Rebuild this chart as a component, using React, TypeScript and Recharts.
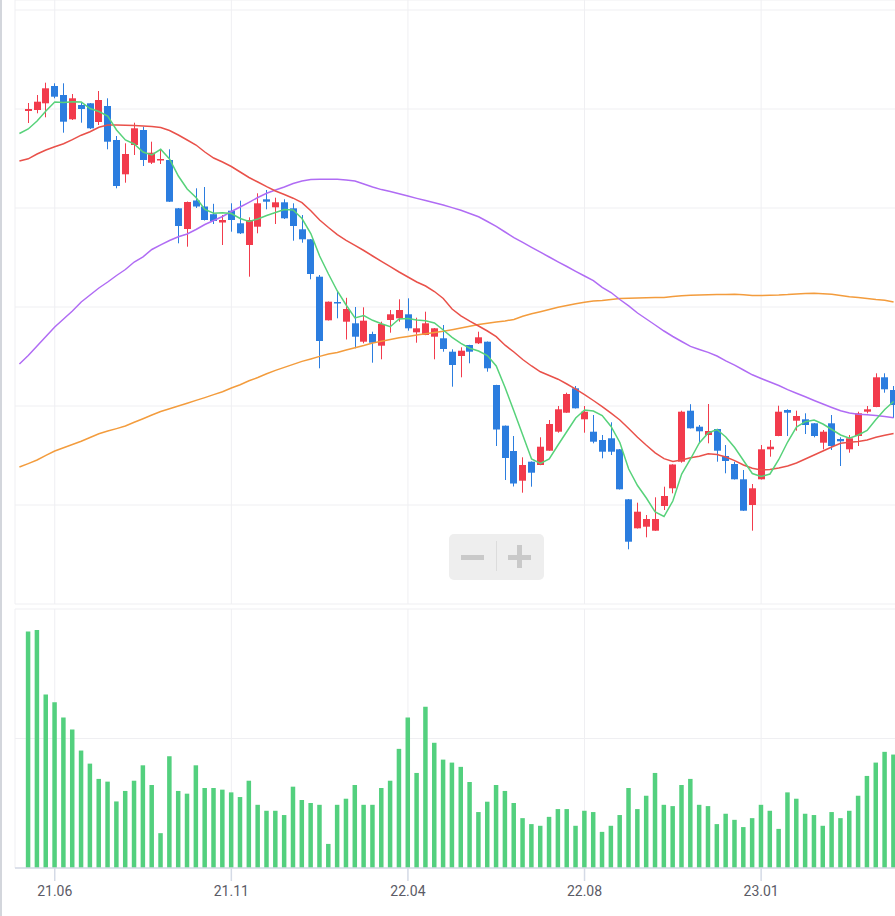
import React from 'react';
import {
  ComposedChart,
  BarChart,
  Bar,
  Line,
  XAxis,
  YAxis,
  CartesianGrid,
} from 'recharts';

// weekly candles, index 0..98 (index -1 only carries the moving averages)
const open = [
  49.3, 49.4, 50.07, 51.8, 50.9, 48.47, 49.9, 50.07, 48.2, 49.8,
  46.4, 42.97, 45.9, 47.4, 44.13, 44.35, 44.4, 39.57, 37.5, 40.35,
  39.75, 38.98, 38.15, 39.33, 38.07, 35.9, 37.73, 40.47, 39.67, 40.17,
  39.57, 37.47, 36.47, 32.73, 28.37, 30.2, 28.23, 28.07, 26.23, 27.0,
  25.83, 28.4, 28.57, 28.97, 27.17, 26.9, 26.73, 26.57, 25.23, 24.8,
  25.9, 26.07, 26.23, 21.9, 17.83, 15.3, 12.33, 14.23, 13.9, 15.33,
  17.23, 19.13, 21.57, 18.47, 17.23, 16.4, 16.57, 15.47, 10.47, 7.57,
  7.73, 7.33, 9.8, 11.57, 14.23, 19.33, 17.73, 16.9, 17.5, 14.8,
  14.0, 12.47, 9.9, 12.47, 15.47, 16.8, 19.4, 18.33, 18.47, 18.07,
  16.13, 18.07, 16.5, 15.47, 16.8, 19.23, 19.7, 22.67, 21.4,
];
const close = [
  49.5, 50.23, 51.57, 50.73, 48.23, 50.57, 49.5, 47.57, 50.4, 46.23,
  41.8, 45.0, 47.57, 44.4, 45.13, 44.5, 40.23, 37.8, 40.2, 39.75,
  38.4, 38.3, 38.4, 38.4, 37.07, 38.4, 40.07, 40.23, 40.17, 38.57,
  37.8, 36.47, 33.0, 26.3, 30.23, 30.05, 29.5, 26.73, 28.33, 26.13,
  28.0, 28.97, 29.4, 27.57, 27.57, 28.07, 27.57, 25.5, 23.9, 25.33,
  25.23, 26.67, 23.57, 17.45, 14.6, 12.05, 13.9, 13.13, 15.73, 18.0,
  19.47, 21.0, 19.57, 19.23, 16.23, 15.23, 15.23, 11.47, 6.23, 9.23,
  8.5, 8.5, 10.8, 13.95, 19.23, 17.57, 17.27, 17.3, 15.33, 14.3,
  12.47, 9.33, 11.57, 15.47, 15.73, 19.23, 19.13, 18.8, 17.9, 16.8,
  17.23, 15.8, 16.27, 16.57, 19.07, 19.47, 22.67, 21.47, 19.9,
];
const high = [
  50.1, 50.9, 52.13, 52.07, 52.07, 51.0, 50.13, 50.1, 51.3, 50.57,
  46.8, 46.07, 48.13, 47.73, 46.23, 45.47, 45.47, 39.6, 40.25, 41.57,
  41.7, 40.02, 38.9, 40.07, 40.33, 38.67, 41.07, 41.4, 40.63, 40.47,
  40.07, 38.9, 36.5, 32.9, 30.25, 31.25, 30.62, 29.7, 29.67, 27.23,
  28.23, 29.4, 30.47, 30.57, 28.63, 29.23, 27.6, 27.9, 25.47, 25.67,
  25.92, 27.23, 26.25, 21.92, 17.85, 16.8, 14.67, 14.25, 16.67, 18.4,
  19.8, 21.13, 21.8, 19.8, 18.9, 16.9, 18.17, 15.5, 10.5, 10.13,
  8.9, 10.67, 11.73, 13.97, 19.33, 19.98, 17.9, 20.0, 17.52, 15.9,
  14.23, 13.4, 12.0, 15.9, 16.4, 19.83, 19.47, 19.33, 19.07, 18.09,
  17.4, 18.9, 16.67, 16.9, 19.23, 19.8, 23.07, 23.07, 21.8,
];
const low = [
  48.1, 49.07, 48.67, 50.57, 47.13, 48.4, 48.13, 47.5, 47.9, 45.47,
  41.57, 42.13, 44.9, 43.8, 44.0, 44.0, 40.2, 36.07, 35.73, 39.6,
  38.35, 38.0, 35.9, 37.23, 37.0, 32.73, 37.07, 39.47, 38.0, 38.5,
  36.33, 36.13, 32.47, 23.57, 28.35, 28.57, 26.45, 25.57, 26.07, 24.13,
  24.47, 27.13, 28.23, 27.33, 26.13, 26.88, 24.47, 25.23, 21.73, 22.67,
  24.07, 26.0, 23.23, 15.8, 12.4, 11.75, 11.13, 11.73, 13.88, 15.31,
  17.13, 19.11, 19.55, 17.13, 16.07, 14.57, 14.9, 11.45, 5.47, 7.55,
  6.67, 7.31, 9.4, 11.07, 14.13, 17.55, 16.07, 16.07, 14.23, 13.07,
  12.45, 9.31, 7.33, 12.45, 14.73, 16.78, 16.8, 17.33, 17.0, 16.67,
  15.47, 15.4, 13.8, 15.13, 15.8, 19.07, 19.68, 21.13, 18.6,
];
const volume = [
  182.7, 183.7, 133.9, 127.9, 116.3, 107.0, 90.7, 80.6, 68.8, 66.7,
  51.4, 59.5, 67.4, 79.3, 64.1, 26.9, 86.3, 59.5, 57.4, 79.3,
  61.8, 61.8, 60.5, 58.4, 54.8, 67.4, 48.8, 44.2, 44.2, 40.9,
  62.8, 52.5, 50.2, 48.8, 18.6, 48.8, 53.5, 64.1, 48.8, 48.8,
  61.8, 67.4, 92.0, 116.3, 73.4, 124.6, 96.7, 83.7, 81.4, 78.1,
  66.4, 43.2, 51.2, 64.1, 59.5, 50.2, 38.5, 33.9, 32.6, 39.5,
  45.5, 45.5, 32.6, 44.2, 43.2, 27.9, 32.6, 40.9, 61.8, 45.5,
  55.8, 73.4, 48.8, 47.8, 64.1, 68.8, 48.8, 47.8, 33.9, 41.9,
  37.2, 31.6, 38.5, 48.8, 44.2, 30.2, 58.4, 53.5, 41.9, 40.9,
  32.6, 43.2, 38.5, 44.2, 55.8, 71.1, 81.4, 89.7, 87.6,
];

// moving averages, index -1..98
const ma5 = [
  47.05, 47.5, 48.3, 49.3, 50.2, 50.15, 50.23, 50.2, 49.55, 49.25,
  48.8, 47.4, 46.4, 46.0, 45.2, 44.9, 45.47, 44.5, 42.8, 41.5,
  40.65, 39.45, 39.07, 39.13, 39.05, 38.55, 38.25, 38.5, 38.85, 39.15,
  39.45, 39.4, 38.55, 37.05, 34.8, 33.0, 31.3, 29.9, 28.6, 28.85,
  28.37, 28.02, 27.73, 28.5, 28.55, 28.4, 28.33, 28.1, 27.4, 26.67,
  26.07, 25.58, 25.3, 24.85, 23.8, 21.65, 19.3, 16.9, 14.5, 14.05,
  14.5, 15.9, 17.25, 18.6, 19.4, 19.3, 18.85, 17.75, 16.15, 13.5,
  11.85, 10.6, 9.2, 8.75, 10.3, 13.0, 14.5, 16.1, 17.1, 17.45,
  16.7, 15.65, 14.35, 13.05, 12.75, 13.0, 14.45, 16.2, 17.7, 18.23,
  18.4, 18.0, 17.45, 16.9, 16.57, 16.9, 17.35, 18.45, 19.45, 20.25,
];
const ma10 = [
  44.3, 44.52, 45.0, 45.4, 45.73, 46.02, 46.43, 46.88, 47.23, 47.67,
  47.9, 47.9, 47.88, 47.84, 47.8, 47.75, 47.65, 47.35, 46.9, 46.4,
  45.9, 45.2, 44.6, 44.2, 43.75, 43.2, 42.65, 42.2, 41.73, 41.3,
  40.95, 40.58, 40.14, 39.32, 38.4, 37.65, 36.94, 36.37, 35.87, 35.35,
  34.8, 34.27, 33.74, 33.2, 32.7, 32.2, 31.8, 31.25, 30.55, 29.5,
  28.82, 28.28, 27.8, 27.3, 26.74, 25.88, 25.2, 24.45, 23.8, 23.22,
  22.85, 22.48, 22.0, 21.48, 20.94, 20.35, 19.74, 19.08, 18.4, 17.55,
  16.67, 15.87, 15.12, 14.54, 14.25, 14.4, 14.62, 14.78, 15.03, 14.95,
  14.7, 14.34, 13.9, 13.57, 13.4, 13.45, 13.6, 13.8, 14.1, 14.5,
  14.9, 15.3, 15.7, 16.07, 16.18, 16.26, 16.4, 16.67, 16.88, 17.04,
];
const ma20 = [
  24.0, 24.85, 25.8, 26.75, 27.7, 28.5, 29.3, 30.2, 30.9, 31.6,
  32.2, 32.85, 33.45, 34.2, 34.72, 35.45, 35.92, 36.35, 36.72, 37.0,
  37.45, 37.95, 38.35, 38.75, 39.25, 39.7, 40.17, 40.65, 41.07, 41.4,
  41.7, 42.05, 42.3, 42.44, 42.47, 42.47, 42.47, 42.4, 42.3, 42.0,
  41.7, 41.44, 41.25, 41.02, 40.8, 40.56, 40.34, 40.13, 39.9, 39.64,
  39.37, 39.05, 38.72, 38.25, 37.76, 37.2, 36.64, 36.16, 35.66, 35.18,
  34.7, 34.22, 33.75, 33.27, 32.8, 32.33, 31.66, 31.15, 30.45, 29.82,
  29.1, 28.5, 27.9, 27.3, 26.75, 26.25, 25.76, 25.45, 25.16, 24.8,
  24.32, 23.88, 23.4, 22.92, 22.55, 22.2, 21.85, 21.44, 21.07, 20.72,
  20.35, 20.0, 19.65, 19.32, 19.1, 18.98, 18.92, 18.85, 18.75, 18.62,
];
const ma60 = [
  13.7, 14.04, 14.4, 14.87, 15.3, 15.62, 15.95, 16.28, 16.65, 17.02,
  17.3, 17.54, 17.8, 18.17, 18.53, 18.9, 19.25, 19.52, 19.8, 20.08,
  20.36, 20.64, 20.94, 21.23, 21.6, 21.93, 22.32, 22.65, 23.02, 23.36,
  23.66, 23.96, 24.26, 24.5, 24.76, 25.0, 25.15, 25.4, 25.63, 25.85,
  26.1, 26.27, 26.46, 26.63, 26.76, 26.9, 27.02, 27.15, 27.28, 27.43,
  27.6, 27.78, 27.94, 28.07, 28.2, 28.31, 28.46, 28.77, 29.02, 29.23,
  29.46, 29.68, 29.85, 30.02, 30.18, 30.31, 30.35, 30.45, 30.54, 30.58,
  30.6, 30.62, 30.64, 30.66, 30.74, 30.82, 30.88, 30.9, 30.92, 30.94,
  30.95, 30.97, 30.92, 30.84, 30.85, 30.88, 30.9, 30.94, 31.0, 31.05,
  31.07, 31.02, 30.97, 30.85, 30.72, 30.65, 30.55, 30.45, 30.38, 30.2,
];

const tickIdx = [3, 23, 43, 63, 83];
const tickLabels = ['21.06', '21.11', '22.04', '22.08', '23.01'];
const priceTicks = [0, 9.9, 19.8, 29.7, 39.6, 49.5, 59.4];
const volumeTicks = [0, 100, 200];

const UP = '#f23b4c';
const DOWN = '#2b7ddf';
const GRID = '#efeff2';
const AXIS = '#d4dae6';

const rows = ma5.map((m, k) => {
  const j = k - 1;
  const has = j >= 0;
  return {
    i: j,
    o: has ? open[j] : null,
    c: has ? close[j] : null,
    h: has ? high[j] : null,
    l: has ? low[j] : null,
    v: has ? volume[j] : null,
    ma5: m,
    ma10: ma10[k],
    ma20: ma20[k],
    ma60: ma60[k],
  };
});

const Candle = (props: any) => {
  const { x, y, width, height, payload } = props;
  if (!payload || payload.o == null || !height) return null;
  const { o, c, h, l } = payload;
  const color = c >= o ? UP : DOWN;
  const k = height / (h - l);
  const yOf = (val: number) => y + (h - val) * k;
  const top = yOf(Math.max(o, c));
  const bot = yOf(Math.min(o, c));
  const bx = Math.round(x + width / 2 - 3.5);
  const cx = bx + 3.5;
  return (
    <g>
      <line x1={cx} x2={cx} y1={y} y2={y + height} stroke={color} strokeWidth={1} />
      <rect x={bx} y={top} width={7} height={Math.max(bot - top, 1.2)} fill={color} />
    </g>
  );
};

const fmtTick = (val: number) => tickLabels[tickIdx.indexOf(val)] ?? '';

export default function App() {
  return (
    <div
      style={{
        position: 'absolute',
        left: 0,
        top: 0,
        width: 895,
        height: 916,
        overflow: 'hidden',
        background: '#fff',
      }}
    >
      <div style={{ position: 'absolute', left: 0, top: 0, width: 2, height: 916, background: '#d3d6dc' }} />

      {/* price panel */}
      <div style={{ position: 'absolute', left: 0, top: 0 }}>
        <ComposedChart
          width={898}
          height={606}
          data={rows}
          margin={{ top: 0, right: 0, bottom: 2, left: 15 }}
        >
          <CartesianGrid stroke={GRID} />
          <XAxis dataKey="i" type="category" hide ticks={tickIdx} interval={0} />
          <YAxis hide type="number" domain={[0, 60.4]} ticks={priceTicks} />
          <Bar
            dataKey={(d: any) => (d.o == null ? null : [d.l, d.h])}
            barSize={7}
            shape={Candle}
            isAnimationActive={false}
          />
          <Line type="linear" dataKey="ma60" stroke="#f39c3d" strokeWidth={1.5} dot={false} activeDot={false} isAnimationActive={false} />
          <Line type="linear" dataKey="ma20" stroke="#b06cf4" strokeWidth={1.5} dot={false} activeDot={false} isAnimationActive={false} />
          <Line type="linear" dataKey="ma10" stroke="#e9514a" strokeWidth={1.5} dot={false} activeDot={false} isAnimationActive={false} />
          <Line type="linear" dataKey="ma5" stroke="#57d27a" strokeWidth={1.5} dot={false} activeDot={false} isAnimationActive={false} />
        </ComposedChart>
      </div>

      {/* volume panel */}
      <div style={{ position: 'absolute', left: 0, top: 604 }}>
        <BarChart
          width={898}
          height={312}
          data={rows}
          margin={{ top: 5, right: 0, bottom: 0, left: 15 }}
        >
          <CartesianGrid stroke={GRID} />
          <XAxis
            dataKey="i"
            type="category"
            ticks={tickIdx}
            interval={0}
            tickFormatter={fmtTick}
            height={48}
            tickSize={13}
            tickMargin={5}
            axisLine={{ stroke: AXIS, strokeWidth: 1.5 }}
            tickLine={{ stroke: AXIS, strokeWidth: 1.5 }}
            tick={{ fill: '#5b5b66', fontSize: 14, fontFamily: 'Roboto, Arial, sans-serif' }}
          />
          <YAxis hide type="number" domain={[0, 200]} ticks={volumeTicks} />
          <Bar dataKey="v" fill="#53d07e" barSize={4.5} isAnimationActive={false} />
        </BarChart>
      </div>

      {/* zoom buttons */}
      <div style={{ position: 'absolute', left: 449, top: 534, width: 95, height: 46, background: '#eeeeee', borderRadius: 5 }}>
        <div style={{ position: 'absolute', left: 12, top: 20.5, width: 23, height: 5, background: '#c9c9c9' }} />
        <div style={{ position: 'absolute', left: 47, top: 7, width: 1, height: 30, background: '#dcdcdc' }} />
        <div style={{ position: 'absolute', left: 59, top: 20.5, width: 23, height: 5, background: '#c9c9c9' }} />
        <div style={{ position: 'absolute', left: 68, top: 11, width: 5, height: 23, background: '#c9c9c9' }} />
      </div>
    </div>
  );
}
